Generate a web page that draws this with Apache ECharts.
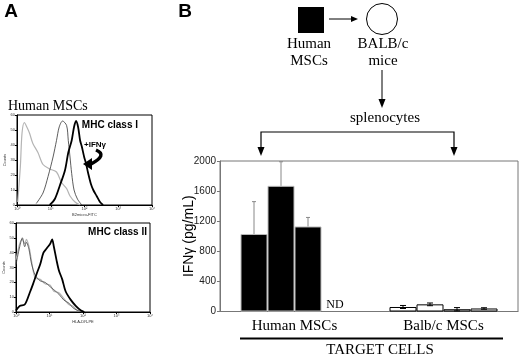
<!DOCTYPE html>
<html>
<head>
<meta charset="utf-8">
<script src="https://cdn.jsdelivr.net/npm/echarts@6/dist/echarts.min.js"></script>
<style>
html, body { margin: 0; padding: 0; background: #fff; }
#chart { width: 520px; height: 356px; }
</style>
</head>
<body>
<div id="chart"></div>
<script>
// panel A: flow histograms, points are [fluorescence, counts]
var class1Isotype = [[1.05, 2], [1.26, 26], [1.41, 48], [1.66, 55], [1.95, 52], [2.34, 48], [2.95, 41], [4.17, 35], [5.89, 27], [9.33, 24], [14.8, 22], [20.9, 15], [29.5, 11], [37.2, 6], [52.5, 2], [74.1, 0]];
var class1Basal = [[3.72, 1], [5.89, 8], [8.32, 19], [11.7, 32], [14.8, 43], [17.8, 52], [22.4, 56], [29.5, 53], [33.1, 43], [37.2, 32], [41.7, 21], [49.0, 10], [61.7, 4], [83.2, 0]];
var class1Ifng = [[9.33, 0], [13.2, 4], [18.6, 13], [26.3, 23], [33.1, 35], [41.7, 43], [49.0, 52], [56.2, 56], [64.6, 52], [74.1, 43], [83.2, 39], [97.7, 32], [110, 28], [129, 21], [155, 14], [182, 10], [229, 6], [288, 2], [355, 0]];
var class2Isotype = [[1, 35], [1.29, 46], [1.55, 49], [1.82, 46], [2.04, 49], [2.45, 44], [2.88, 35], [3.72, 23], [5.25, 22], [7.41, 19], [10.5, 18], [13.5, 14], [19.1, 13], [26.9, 9], [38.0, 5], [49.0, 4], [69.2, 1], [97.7, 0]];
var class2Basal = [[1, 32], [1.29, 44], [1.55, 50], [1.82, 44], [2.04, 47], [2.45, 42], [2.88, 33], [3.72, 25], [5.25, 21], [7.41, 20], [10.5, 17], [13.5, 15], [19.1, 12], [26.9, 8], [38.0, 6], [49.0, 3], [69.2, 1], [97.7, 0]];
var class2Ifng = [[1, 1], [1.29, 4], [1.82, 5], [2.57, 13], [3.24, 19], [4.17, 26], [5.25, 32], [6.61, 40], [8.32, 43], [10.5, 46], [12.0, 49], [13.5, 44], [16.2, 35], [19.1, 28], [24.0, 22], [30.2, 14], [43.7, 8], [61.7, 4], [87.1, 1], [110, 0]];
var decadeLabels = { 1: "10\u2070", 10: "10\u00b9", 100: "10\u00b2", 1000: "10\u00b3", 10000: "10\u2074" };

// panel B: IFN-gamma (pg/mL)
var targetCells = ["Human MSCs", "Balb/c MSCs"];
var humanMeans = [1030, 1670, 1130, null]; // last one is ND
var humanErr = [430, 320, 120, null];
var balbMeans = [60, 95, 30, 40];
var balbErr = [20, 18, 22, 10];

var serif = "'Liberation Serif', 'Times New Roman', serif";
var sans = "'Liberation Sans', Arial, sans-serif";
var barW = 27;

var dom = document.getElementById("chart");
var myChart = echarts.init(dom, null, { renderer: "canvas" });

function histX(idx, name) {
  return {
    gridIndex: idx, type: "log", logBase: 10, min: 1, max: 10000,
    name: name, nameLocation: "middle", nameGap: 8,
    nameTextStyle: { fontSize: 4, color: "#333" },
    axisLine: { lineStyle: { color: "#000" } },
    axisTick: { length: 2, lineStyle: { color: "#000" } },
    axisLabel: { fontSize: 4, margin: 2, color: "#333", formatter: function (v) { return decadeLabels[v] || ""; } },
    splitLine: { show: false }
  };
}
function histY(idx) {
  return {
    gridIndex: idx, type: "value", min: 0, max: 60, interval: 10,
    name: "Counts", nameLocation: "middle", nameGap: 7,
    nameTextStyle: { fontSize: 4, color: "#333" },
    axisLine: { show: true, lineStyle: { color: "#000" } },
    axisTick: { length: 2, lineStyle: { color: "#000" } },
    axisLabel: { fontSize: 4, margin: 2, color: "#333" },
    splitLine: { show: false }
  };
}
function curve(idx, data, color, width) {
  return {
    type: "line", xAxisIndex: idx, yAxisIndex: idx, data: data,
    showSymbol: false, smooth: 0.3, silent: true,
    lineStyle: { color: color, width: width }
  };
}

var barSeries = [];
var errData = [];
for (var i = 0; i < 4; i++) {
  var h = humanMeans[i];
  barSeries.push({
    type: "bar", xAxisIndex: 2, yAxisIndex: 2, barWidth: barW, barGap: "0%",
    data: [
      h == null
        ? { value: 0, itemStyle: { color: "#000", borderWidth: 0 },
            label: { show: true, position: "top", distance: 1, formatter: "ND", fontFamily: serif, fontSize: 12, color: "#000" } }
        : { value: h, itemStyle: { color: "#000", borderColor: "#bbb", borderWidth: 1 } },
      { value: balbMeans[i], itemStyle: { color: "#fff", borderColor: "#000", borderWidth: 1 } }
    ]
  });
  if (h != null) errData.push([0, i, h, humanErr[i], 1]);
  errData.push([1, i, balbMeans[i], balbErr[i], 0]);
}

function renderError(params, api) {
  var cat = api.value(0), slot = api.value(1), mean = api.value(2), err = api.value(3), up = api.value(4);
  var x = api.coord([cat, mean])[0] + (slot - 1.5) * barW;
  var yTop = api.coord([cat, mean + err])[1];
  var yBot = up ? api.coord([cat, mean])[1] : api.coord([cat, mean - err])[1];
  var col = up ? "#888" : "#000";
  var cap = up ? 2 : 3;
  var kids = [
    { type: "line", shape: { x1: x, y1: yTop, x2: x, y2: yBot }, style: { stroke: col, lineWidth: 1 } },
    { type: "line", shape: { x1: x - cap, y1: yTop, x2: x + cap, y2: yTop }, style: { stroke: col, lineWidth: 1 } }
  ];
  if (!up) kids.push({ type: "line", shape: { x1: x - cap, y1: yBot, x2: x + cap, y2: yBot }, style: { stroke: col, lineWidth: 1 } });
  return { type: "group", children: kids };
}

function txt(s, x, y, font, align) {
  return { type: "text", silent: true, style: { text: s, x: x, y: y, font: font, fill: "#000", textAlign: align || "center", textVerticalAlign: "middle" } };
}
function tri(pts) {
  return { type: "polygon", silent: true, shape: { points: pts }, style: { fill: "#000" } };
}
function seg(pts, w) {
  return { type: "polyline", silent: true, shape: { points: pts }, style: { stroke: "#000", lineWidth: w || 1, fill: null } };
}

var option = {
  backgroundColor: "#fff",
  animation: false,
  grid: [
    { left: 17, top: 115, width: 135, height: 90, show: true, borderColor: "#000", borderWidth: 1 },
    { left: 16, top: 223, width: 134, height: 89, show: true, borderColor: "#000", borderWidth: 1 },
    { left: 220, top: 161, width: 298, height: 150.5, show: true, borderColor: "#777", borderWidth: 1 }
  ],
  xAxis: [
    histX(0, "B2micro-FITC"),
    histX(1, "HLA-DR-PE"),
    {
      gridIndex: 2, type: "category", data: targetCells,
      axisLine: { lineStyle: { color: "#777" } },
      axisTick: { show: false },
      axisLabel: { fontFamily: serif, fontSize: 15, color: "#000", margin: 7 }
    }
  ],
  yAxis: [
    histY(0),
    histY(1),
    {
      gridIndex: 2, type: "value", min: 0, max: 2000, interval: 400,
      name: "IFN\u03b3 (pg/mL)", nameLocation: "middle", nameGap: 24, nameMoveOverlap: false,
      nameTextStyle: { fontFamily: sans, fontSize: 14, color: "#000" },
      axisLine: { show: true, lineStyle: { color: "#777" } },
      axisTick: { show: true, length: 3, lineStyle: { color: "#777" } },
      axisLabel: { fontFamily: "'Liberation Sans Narrow', 'Arial Narrow', sans-serif", fontSize: 10, color: "#222", margin: 4,
        formatter: function (v) { return String(v); } },
      splitLine: { show: false }
    }
  ],
  series: [
    curve(0, class1Isotype, "#b4b4b4", 1.2),
    curve(0, class1Basal, "#333", 0.8),
    curve(0, class1Ifng, "#000", 1.8),
    curve(1, class2Isotype, "#b4b4b4", 1.2),
    curve(1, class2Basal, "#444", 0.8),
    curve(1, class2Ifng, "#000", 1.8)
  ].concat(barSeries).concat([{
    type: "custom", xAxisIndex: 2, yAxisIndex: 2, data: errData,
    renderItem: renderError, silent: true, z: 5
  }]),
  graphic: [
    txt("A", 11, 12, "bold 19px " + sans),
    txt("B", 185, 12, "bold 19px " + sans),
    txt("Human MSCs", 8, 106, "14px " + serif, "left"),
    txt("MHC class I", 138, 125, "bold 10px " + sans, "right"),
    txt("+IFN\u03b3", 84, 145, "bold 8px " + sans, "left"),
    { type: "bezierCurve", silent: true, shape: { x1: 96, y1: 150, cpx1: 108, cpy1: 155, x2: 91, y2: 164 }, style: { stroke: "#000", lineWidth: 3.5, fill: null } },
    tri([[83, 164], [92, 158], [92, 170]]),
    txt("MHC class II", 147, 232, "bold 10px " + sans, "right"),
    // scheme of panel B
    { type: "rect", silent: true, shape: { x: 298, y: 7, width: 26, height: 26 }, style: { fill: "#000" } },
    seg([[329, 19], [352, 19]]),
    tri([[358, 19], [351, 16], [351, 22]]),
    { type: "circle", silent: true, shape: { cx: 382, cy: 19, r: 15.5 }, style: { fill: "#fff", stroke: "#000", lineWidth: 1 } },
    txt("Human", 309, 44, "15px " + serif),
    txt("MSCs", 309, 61, "15px " + serif),
    txt("BALB/c", 383, 44, "15px " + serif),
    txt("mice", 383, 61, "15px " + serif),
    seg([[382, 70], [382, 101]]),
    tri([[382, 108], [378.5, 99], [385.5, 99]]),
    txt("splenocytes", 385, 118, "15px " + serif),
    seg([[261, 149], [261, 132], [454, 132], [454, 149]], 1.2),
    tri([[261, 156], [257.5, 147], [264.5, 147]]),
    tri([[454, 156], [450.5, 147], [457.5, 147]]),
    seg([[240, 338.5], [503, 338.5]], 2),
    txt("TARGET CELLS", 380, 350, "15px " + serif)
  ]
};

myChart.setOption(option);
window.addEventListener("resize", myChart.resize);
</script>
</body>
</html>
